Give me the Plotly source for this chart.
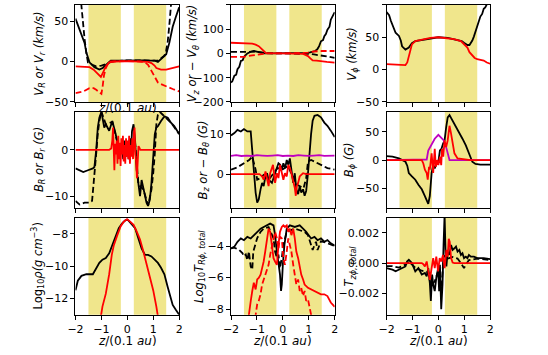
import plotly.graph_objects as go
from plotly.subplots import make_subplots

# ---------------- row 1 : velocities ----------------
vr_black_z = [-2.0, -1.9, -1.77, -1.65, -1.58, -1.46, -1.27, -1.08, -0.95, -0.83, -0.64, -0.33, 0.0, 0.3, 0.6, 0.9, 1.06, 1.18, 1.3, 1.4, 1.5, 1.62, 1.75, 1.87, 2.0]
vr_black = [53, 45, 35, 23, 11, -1, -7, -10, -8, -4, 1, 1, 1.5, 1.5, 1.5, 1, 1, -0.5, 3, 5, 9, 23, 43, 55, 67]
vr_black_dash_z = [-1.78, -1.72, -1.65, -1.58, -1.52, -1.35, -1.2, -1.0, -0.8, -0.6, -0.3, 0.0, 0.3, 0.6, 0.9, 1.18, 1.3, 1.43, 1.5, 1.56, 1.62, 1.69]
vr_black_dash = [72, 50, 28, 10, -1, -4, -6, -5, -3, 0, 1, 1.5, 1.5, 1.5, 1, 1, 4, 7, 14, 25, 45, 72]
vr_red_z = [-2.0, -1.8, -1.6, -1.46, -1.3, -1.15, -1.02, -0.93, -0.83, -0.7, -0.5, 0.0, 0.5, 0.8, 0.93, 1.05, 1.12, 1.3, 1.5, 1.75, 2.0]
vr_red = [-6, -6.5, -6.5, -7, -10, -15, -19, -13, -6, -1, 0, 0.5, 0, -0.5, -2, -5, -8, -10, -10, -8, -6]
vr_red_dash_z = [-2.0, -1.85, -1.7, -1.46, -1.3, -1.2, -1.1, -1.0, -0.95, -0.9, -0.83, -0.75, -0.7, -0.5, 0.0, 0.5, 0.68, 0.8, 0.9, 1.0, 1.1, 1.18, 1.3, 1.43, 1.6, 1.75, 2.0]
vr_red_dash = [-39, -38, -37, -33, -33, -35, -38, -40, -30, -17, -8, -2, 0, 0, 0.5, 0, -1, -4, -10, -16, -22, -26, -28, -30, -32, -34, -37]

vz_black_z = [-2.0, -1.95, -1.87, -1.8, -1.75, -1.68, -1.62, -1.55, -1.5, -1.43, -1.37, -1.24, -1.12, -0.93, -0.7, -0.4, 0.0, 0.4, 0.8, 0.97, 1.05, 1.15, 1.25, 1.34, 1.4, 1.47, 1.55, 1.6, 1.66, 1.72, 1.8, 1.85, 1.9, 1.97, 2.0]
vz_black = [-120, -115, -92, -88, -65, -55, -31, -28, -14, -8, 0, 7, 10, 5, 0, 0, 0, 0, 0, 2, 4, 7, 10, 19, 30, 50, 55, 71, 80, 98, 110, 139, 150, 169, 170]
vz_black_dash_z = [-2.0, -1.7, -1.5, -1.3, -1.1, -0.9, -0.6, 0.0, 0.6, 0.9, 1.0, 1.2, 1.4, 1.6, 1.8, 2.0]
vz_black_dash = [6, 5, 4, 6, 8, 5, 1, 0, 0, -1, -2, -4, -8, -11, -14, -18]
vz_red_z = [-2.0, -1.7, -1.5, -1.3, -1.18, -1.05, -0.93, -0.83, -0.74, -0.65, 0.0, 0.7, 0.78, 0.87, 0.97, 1.06, 1.15, 1.3, 1.47, 1.7, 2.0]
vz_red = [44, 42, 40, 41, 40, 36, 30, 20, 10, 1, 0, 0, -2, -6, -11, -20, -29, -30, -31, -35, -38]
vz_red_dash_z = [-2.0, -1.5, -1.18, -0.8, -0.6, 0.0, 0.7, 0.97, 1.2, 1.5, 2.0]
vz_red_dash = [-14, -14, -8, -1, 0, 0, 1, 3, 8, 10, 10]

vp_black_z = [-2.0, -1.9, -1.83, -1.77, -1.7, -1.65, -1.52, -1.45, -1.4, -1.27, -1.14, -1.02, -0.89, -0.64, -0.26, 0.0, 0.36, 0.74, 0.9, 1.0, 1.12, 1.2, 1.25, 1.31, 1.37, 1.43, 1.5, 1.56, 1.62, 1.69, 1.75, 1.81, 1.87]
vp_black = [89, 84, 75, 69, 62, 57, 52, 45, 36, 31, 34, 41, 44, 46, 49, 50, 49, 46, 44, 41, 38, 38, 41, 45, 51, 58, 67, 72, 82, 86, 94, 96, 101]
vp_red_z = [-2.0, -1.6, -1.3, -1.27, -1.2, -1.14, -1.08, -1.02, -0.89, -0.6, -0.3, 0.0, 0.3, 0.6, 0.87, 1.0, 1.12, 1.2, 1.31, 1.4, 1.5, 1.62, 1.75, 1.87, 2.0]
vp_red = [8.5, 8, 7, 7, 11, 19, 30, 39, 44, 47, 49, 50, 49, 47, 44, 39, 34, 27, 21, 18, 16, 15, 14, 11, 9]

# ---------------- row 2 : magnetic field ----------------
br_black_z = [-2.0, -1.84, -1.7, -1.52, -1.33, -1.27, -1.2, -1.14, -1.08, -1.0, -0.95, -0.89, -0.83, -0.7, -0.58, -0.5, -0.45, -0.38, -0.33, -0.28, -0.22, -0.16, -0.1, -0.05, 0.0, 0.05, 0.1, 0.14, 0.18, 0.24, 0.3, 0.36, 0.43, 0.49, 0.55, 0.62, 0.68, 0.74, 0.8, 0.87, 0.93, 1.0, 1.06, 1.12, 1.18, 1.3, 1.43, 1.56, 1.69, 1.81, 2.0]
br_black = [-4, -4.5, -4.8, -4.4, -4, -3.7, 0, 4.8, 6.9, 8.2, 6.2, 4.8, 5.5, 4.1, 6.2, 4.8, 3.4, 1.3, 0.5, -1, 1.5, -2, 2, -1.5, 1, -2, 2.5, -1, 4, 5.5, 2, -4.4, -7.9, -10, -6.5, -8.6, -10, -11.4, -12.1, -10.7, -7.2, -1.5, 3.4, 4.8, 5.1, 6.2, 7.2, 6.9, 5.8, 5.1, 3.4]
br_black_dash_z = [-2.0, -1.84, -1.65, -1.46, -1.36, -1.31, -1.26, -1.2, -1.14, -1.08, -1.0, -0.83, -0.58, -0.33, 0.0, 0.3, 0.43, 0.62, 0.8, 0.93, 1.0, 1.06, 1.12, 1.18, 1.25, 1.43, 1.69, 2.0]
br_black_dash = [-11, -11.8, -11.4, -11.4, -11, -7.2, -3.7, -0.8, 3.4, 6.2, 8.2, 5.5, 6, 0.5, 0.5, 1.5, -7.5, -8.5, -12, -8.6, -5, -0.8, 5.5, 7.6, 8.2, 7.2, 5.8, 3.4]
br_red_z = [-2.0, -0.7, -0.62, -0.58, -0.55, -0.52, -0.5, -0.47, -0.44, -0.41, -0.38, -0.35, -0.32, -0.29, -0.26, -0.23, -0.2, -0.17, -0.14, -0.11, -0.08, -0.05, -0.02, 0.01, 0.04, 0.07, 0.1, 0.13, 0.16, 0.19, 0.22, 0.25, 0.28, 0.31, 0.34, 0.37, 0.4, 0.43, 0.46, 0.5, 0.55, 0.6, 2.0]
br_red = [0, 0, 0.3, 2, 4.8, -1.5, -4.4, 1.3, -1, 2, -3, 3, -2, 1.5, -3.5, 2.5, -1, 3, -2.5, 1, -3, 2.5, -1.5, 2, -2, 3, -3, 1, -1.5, 2.5, -2, 3.5, 4.8, -1, -2.5, -6.1, -1, 0.8, 0.5, 0, 0, 0, 0]

bz_black_z = [-2.0, -1.87, -1.75, -1.62, -1.5, -1.37, -1.24, -1.18, -1.12, -1.05, -0.99, -0.93, -0.86, -0.8, -0.74, -0.67, -0.61, -0.55, -0.48, -0.42, -0.3, -0.23, -0.17, -0.1, -0.04, 0.02, 0.09, 0.15, 0.21, 0.27, 0.34, 0.4, 0.46, 0.52, 0.59, 0.65, 0.71, 0.78, 0.84, 0.9, 0.97, 1.03, 1.09, 1.15, 1.22, 1.34, 1.47, 1.6, 1.72, 1.85, 2.0]
bz_black = [9.6, 10.2, 11, 10.6, 11.2, 10.6, 10.6, 5.9, 0.2, -4.6, -7.1, -6.3, -3.8, -2.2, -3, -0.5, 0.2, -1.4, -1.8, -2.2, 0.2, 1.9, 2.7, 2.3, 1, 2.7, 1.5, 3.5, 2.3, 3.9, 0.2, -2.2, 0.2, -3.8, -5, -3, -4.6, -3.8, -5.4, -4.2, 0.2, 5.9, 10, 13.3, 14.5, 14.7, 14.1, 12.8, 12, 10.8, 9.2]
bz_black_dash_z = [-2.0, -1.75, -1.5, -1.3, -1.18, -1.05, -0.99, -0.86, -0.74, -0.5, -0.2, 0.0, 0.2, 0.5, 0.8, 0.9, 0.97, 1.09, 1.22, 1.47, 1.72, 2.0]
bz_black_dash = [1.1, 1.7, 2.7, 3.5, 4.3, 1.1, -1.4, -1, -0.2, -1, 1.5, 1.2, 2, -2.5, -3.5, -1, 3.1, 3.5, 3.1, 2.3, 1.5, 1.1]
bz_mag_z = [-2.0, -1.8, -1.6, -1.4, -1.2, -1.0, -0.8, -0.6, -0.4, -0.2, 0.0, 0.2, 0.4, 0.6, 0.8, 1.0, 1.2, 1.4, 1.6, 1.8, 2.0]
bz_mag = [4.5, 4.7, 4.5, 4.6, 4.5, 4.7, 4.6, 4.5, 4.6, 4.7, 4.5, 4.6, 4.5, 4.7, 4.6, 4.5, 4.6, 4.7, 4.5, 4.6, 4.6]
bz_red_z = [-2.0, -0.9, -0.8, -0.74, -0.67, -0.61, -0.55, -0.49, -0.42, -0.38, -0.35, -0.3, -0.23, -0.17, -0.11, -0.04, 0.02, 0.08, 0.15, 0.21, 0.27, 0.33, 0.4, 0.46, 0.5, 0.54, 0.59, 0.65, 0.71, 0.78, 0.9, 2.0]
bz_red = [0, 0, -0.6, -1.4, 0.65, -1, -3, 0.2, 1.9, 2.3, 0.65, -2.2, 0.2, -1, 2.3, -0.2, -1.4, 0.2, -0.6, 2.3, 1.5, 0.2, -1.4, -3.4, -5.4, -3, -2.2, -0.6, -0.2, 0.2, 0, 0]

bp_black_z = [-2.0, -1.77, -1.52, -1.27, -1.2, -1.14, -1.02, -0.89, -0.77, -0.64, -0.52, -0.39, -0.33, -0.26, -0.2, -0.14, -0.07, 0.0, 0.06, 0.12, 0.18, 0.24, 0.3, 0.36, 0.43, 0.55, 0.68, 0.8, 0.93, 1.06, 1.18, 1.31, 1.43, 1.62, 2.0]
bp_black = [7, 6, 3, -3, -10, -23, -29, -35, -44, -52, -64, -78, -64, -23, -9, -15, -6, -3, 17, 20, 29, 35, 58, 76, 80, 70, 61, 49, 38, 26, 12, -3, -7, -8, -8]
bp_mag_z = [-2.0, -0.52, -0.45, -0.39, -0.26, -0.14, 0.0, 0.12, 0.21, 0.3, 0.39, 0.43, 2.0]
bp_mag = [0, 0, 1, 17, 29, 38, 45, 40, 35, 23, 9, 0, 0]
bp_red_z = [-2.0, -0.64, -0.58, -0.52, -0.45, -0.41, -0.36, -0.33, -0.26, -0.2, -0.14, -0.1, -0.05, 0.0, 0.06, 0.11, 0.14, 0.19, 0.24, 0.3, 0.36, 0.43, 0.49, 0.55, 0.62, 0.74, 0.99, 1.24, 2.0]
bp_red = [0, 0, -6, -17, -23, -35, -12, -17, 12, -23, 20, -12, 0, -9, 6, -9, 20, 6, 35, 23, 35, 61, 47, 29, 12, 3, 1, 0, 0]

# ---------------- row 3 : density and stresses ----------------
rho_black_z = [-2.0, -1.91, -1.77, -1.58, -1.33, -1.2, -1.08, -0.96, -0.83, -0.7, -0.58, -0.45, -0.33, -0.2, -0.07, 0.03, 0.18, 0.3, 0.43, 0.55, 0.68, 0.8, 0.93, 1.06, 1.18, 1.3, 1.43, 1.56, 1.69, 1.75, 1.87, 2.0]
rho_black = [-11.5, -10.9, -10.6, -10.5, -10.5, -10.1, -9.8, -9.6, -9.5, -9.2, -8.7, -8.1, -7.65, -7.35, -7.15, -7.15, -7.45, -7.65, -8.3, -8.9, -9.3, -9.3, -9.4, -9.6, -9.8, -10.1, -10.5, -11.3, -12.1, -12.4, -12.7, -13.0]
rho_red_z = [-1.02, -0.96, -0.83, -0.7, -0.6, -0.52, -0.39, -0.26, -0.14, -0.01, 0.11, 0.24, 0.36, 0.49, 0.62, 0.74, 0.87, 1.0, 1.12, 1.18]
rho_red = [-13.1, -12.5, -11.7, -10.5, -9.3, -8.7, -8.1, -7.55, -7.25, -7.1, -7.25, -7.45, -7.85, -8.35, -9.1, -9.9, -10.7, -11.5, -12.5, -13.1]

tr_black_z = [-2.0, -1.87, -1.75, -1.62, -1.5, -1.37, -1.24, -1.12, -0.99, -0.86, -0.74, -0.61, -0.49, -0.36, -0.3, -0.23, -0.17, -0.11, -0.07, -0.04, 0.0, 0.06, 0.15, 0.27, 0.46, 0.65, 0.78, 0.9, 1.09, 1.22, 1.34, 1.47, 1.6, 1.72, 1.85, 2.0]
tr_black = [-4.15, -4.04, -3.73, -3.52, -3.63, -3.42, -3.52, -3.31, -3.1, -2.9, -2.79, -2.69, -2.58, -2.69, -3.31, -4.35, -5.19, -5.81, -6.85, -6.44, -5.19, -3.94, -2.9, -2.69, -2.79, -2.69, -2.9, -3.1, -3.52, -3.42, -3.63, -3.52, -3.73, -3.63, -3.83, -3.98]
tr_black_dash_z = [-2.0, -1.87, -1.68, -1.56, -1.5, -1.43, -1.37, -1.31, -1.24, -1.18, -1.14, -1.08, -0.99, -0.86, -0.74, -0.55, -0.36, -0.3, -0.23, -0.17, -0.11, -0.04, 0.02, 0.15, 0.46, 0.84, 0.97, 1.09, 1.15, 1.22, 1.28, 1.34, 1.41, 1.47, 1.6, 1.8, 2.0]
tr_black_dash = [-4.15, -4.1, -4.25, -4.45, -4.65, -4.54, -4.9, -4.35, -5.3, -5.5, -4.35, -3.94, -3.5, -3.1, -2.9, -2.8, -3.52, -4.35, -4.75, -4.55, -5.4, -4.75, -3.94, -3.1, -2.9, -3.1, -3.31, -3.94, -4.25, -3.94, -3.73, -4.25, -3.94, -3.7, -3.75, -3.85, -4.0]
tr_red_z = [-1.33, -1.31, -1.24, -1.18, -1.12, -1.05, -0.99, -0.93, -0.86, -0.8, -0.74, -0.68, -0.61, -0.55, -0.49, -0.42, -0.36, -0.3, -0.23, -0.17, -0.11, -0.04, 0.02, 0.08, 0.15, 0.21, 0.27, 0.33, 0.4, 0.46, 0.52, 0.59, 0.65, 0.71, 0.78, 0.84, 0.97, 1.09, 1.22, 1.34, 1.47, 1.6, 1.72, 1.85, 2.0]
tr_red = [-8.6, -8.3, -7.5, -6.85, -6.33, -6.75, -6.12, -6.02, -5.81, -5.4, -4.98, -4.35, -3.52, -2.9, -3.1, -3.94, -4.77, -4.98, -5.19, -3.94, -3.1, -2.79, -2.69, -2.79, -2.69, -3.1, -2.9, -3.31, -2.9, -3.52, -4.35, -4.77, -5.4, -5.81, -6.12, -6.44, -6.65, -6.75, -6.85, -6.96, -7.06, -7.06, -7.17, -7.58, -7.85]
tr_red_dash_z = [-1.07, -1.05, -0.99, -0.93, -0.86, -0.8, -0.74, -0.68, -0.61, -0.55, -0.49, -0.42, -0.36, -0.3, -0.23, -0.17, -0.11, -0.04, 0.02, 0.08, 0.15, 0.21, 0.27, 0.33, 0.4, 0.46, 0.52, 0.59, 0.65, 0.71, 0.78, 0.84, 0.9, 0.97, 1.03, 1.09, 1.12]
tr_red_dash = [-8.6, -8.3, -7.69, -7.48, -7.06, -6.44, -6.12, -5.81, -5.4, -5.19, -4.56, -3.94, -3.52, -3.1, -3.5, -4.2, -3.4, -3.52, -4.77, -5.19, -4.35, -3.52, -3.94, -4.35, -5.19, -5.81, -6.44, -6.12, -6.85, -6.65, -7.17, -6.85, -7.48, -7.38, -7.79, -8.3, -8.6]

tz_black_z = [-2.0, -1.77, -1.65, -1.52, -1.4, -1.27, -1.21, -1.14, -1.02, -0.89, -0.77, -0.64, -0.52, -0.45, -0.39, -0.33, -0.29, -0.24, -0.2, -0.14, -0.08, -0.01, 0.03, 0.06, 0.11, 0.16, 0.2, 0.24, 0.28, 0.31, 0.36, 0.43, 0.49, 0.55, 0.62, 0.68, 0.74, 0.81, 0.87, 0.93, 0.99, 1.06, 1.12, 1.18, 1.25, 1.37, 1.5, 1.75, 2.0]
tz_black = [-0.00033, -0.00043, -0.00054, -0.00043, -0.00033, -0.00022, 0.00011, 0.00022, 0.0, -0.00054, -0.00033, -0.00076, -0.00065, -0.00087, -0.00033, -0.0013, -0.0025, -0.00076, -0.00141, -0.00185, -0.00098, -0.00033, -0.00185, -0.00011, -0.00304, -0.00141, 0.0012, 0.0032, 0.00054, -0.00022, 0.00076, 0.00054, 0.0012, 0.00087, 0.00098, 0.00109, 0.00076, 0.00087, 0.00054, 0.00065, 0.00033, 0.00043, 0.00033, 0.00054, 0.00043, 0.00043, 0.00033, 0.00033, 0.00026]
tz_black_dash_z = [-2.0, -1.77, -1.52, -1.27, -1.14, -0.89, -0.64, -0.39, -0.29, -0.14, 0.0, 0.11, 0.2, 0.36, 0.55, 0.74, 0.87, 0.99, 1.06, 1.18, 1.5, 2.0]
tz_black_dash = [-0.0002, -0.0002, -0.0003, -0.0001, 0.0001, -0.0003, -0.0005, -0.0006, -0.0015, -0.0012, -0.0005, -0.002, 0.0005, 0.0003, 0.0004, 0.0003, 0.0, -0.00033, -0.0001, 0.0002, 0.0003, 0.0002]
tz_red_z = [-2.0, -0.64, -0.58, -0.52, -0.45, -0.39, -0.33, -0.26, -0.2, -0.14, -0.08, -0.01, 0.05, 0.11, 0.18, 0.24, 0.28, 0.31, 0.36, 0.4, 0.44, 0.49, 0.55, 0.62, 2.0]
tz_red = [0, 0, -0.00007, -0.00022, 0.00011, -0.00054, -0.0011, -0.00033, 0.00033, -0.00033, 0.00043, -0.00054, 0.00033, 0.00011, 0.00054, -0.00033, 0.00033, 0.00087, 0.00043, 0.0016, 0.0014, 0.00033, 0.00004, 0.0, 0.0]

# shaded z intervals
bands = [(-1.5, -0.25), (0.25, 1.5)]
x_ticks = [-2, -1, 0, 1, 2]

BLACK = "black"
RED = "#ff0000"
MAG = "#bf00bf"
FONT = "DejaVu Sans"

fig = make_subplots(rows=3, cols=3)


def add(row, col, z, v, color, dash="solid"):
    fig.add_trace(go.Scatter(x=z, y=v, mode="lines", showlegend=False, hoverinfo="skip",
                             line=dict(color=color, width=1.8, dash=dash)), row=row, col=col)


DASH = "6px,3px"
add(1, 1, vr_black_z, vr_black, BLACK)
add(1, 1, vr_black_dash_z, vr_black_dash, BLACK, DASH)
add(1, 1, vr_red_z, vr_red, RED)
add(1, 1, vr_red_dash_z, vr_red_dash, RED, DASH)

add(1, 2, vz_black_z, vz_black, BLACK)
add(1, 2, vz_black_dash_z, vz_black_dash, BLACK, DASH)
add(1, 2, vz_red_z, vz_red, RED)
add(1, 2, vz_red_dash_z, vz_red_dash, RED, DASH)

add(1, 3, vp_black_z, vp_black, BLACK)
add(1, 3, vp_red_z, vp_red, RED)

add(2, 1, br_black_z, br_black, BLACK)
add(2, 1, br_black_dash_z, br_black_dash, BLACK, DASH)
add(2, 1, br_red_z, br_red, RED)

add(2, 2, bz_black_z, bz_black, BLACK)
add(2, 2, bz_black_dash_z, bz_black_dash, BLACK, DASH)
add(2, 2, bz_mag_z, bz_mag, MAG)
add(2, 2, bz_red_z, bz_red, RED)

add(2, 3, bp_black_z, bp_black, BLACK)
add(2, 3, bp_mag_z, bp_mag, MAG)
add(2, 3, bp_red_z, bp_red, RED)

add(3, 1, rho_black_z, rho_black, BLACK)
add(3, 1, rho_red_z, rho_red, RED)

add(3, 2, tr_black_z, tr_black, BLACK)
add(3, 2, tr_black_dash_z, tr_black_dash, BLACK, DASH)
add(3, 2, tr_red_z, tr_red, RED)
add(3, 2, tr_red_dash_z, tr_red_dash, RED, DASH)

add(3, 3, tz_black_z, tz_black, BLACK)
add(3, 3, tz_black_dash_z, tz_black_dash, BLACK, DASH)
add(3, 3, tz_red_z, tz_red, RED)

W, H = 548, 355


def px(x):
    return x / W


def py(y):
    return 1 - y / H


col_px = [(69, 175), (228, 334), (387, 493)]
row_px = [(5, 104), (114, 212), (222, 321)]

y_ranges = [[-50, 70], [-200, 200], [-50, 100],
            [-12.5, 8.2], [-8.4, 15.5], [-85, 86],
            [-13, -7], [-8.35, -2.2], [-0.0034, 0.0030]]
y_ticks = [[-50, 0, 50], [-200, -100, 0, 100, 200], [-50, 0, 50, 100],
           [-10, 0], [0, 10], [-50, 0, 50],
           [-12, -10, -8], [-8, -6, -4], [-0.002, 0, 0.002]]
y_titles = ["<i>V<sub>R</sub> or V<sub>r</sub> (km/s)</i>",
            "<i>V<sub>z</sub> or − V<sub>θ</sub> (km/s)</i>",
            "<i>V<sub>ϕ</sub> (km/s)</i>",
            "<i>B<sub>R</sub> or B<sub>r</sub> (G)</i>",
            "<i>B<sub>z</sub> or − B<sub>θ</sub> (G)</i>",
            "<i>B<sub>ϕ</sub> (G)</i>",
            "Log<sub>10</sub><i>ρ(g cm</i><sup>−3</sup>)",
            "<i>Log</i><sub>10</sub><i>T<sub>Rϕ, total</sub></i>",
            "<i>T<sub>zϕ, total</sub></i>"]
title_x = [32, 189, 352, 32, 200, 349, 31, 195, 349]

axis_style = dict(showline=True, linecolor="black", linewidth=1, mirror=True,
                  ticks="outside", ticklen=4, tickwidth=1, tickcolor="black",
                  showgrid=False, zeroline=False,
                  tickfont=dict(family=FONT, size=11, color="black"))

for i in range(9):
    r, c = i // 3, i % 3
    n = "" if i == 0 else str(i + 1)
    x0, x1 = col_px[c]
    y0, y1 = row_px[r]
    fig.layout["xaxis" + n].update(domain=[px(x0), px(x1)], range=[-2, 2], tickvals=x_ticks,
                                   showticklabels=(r == 2), **axis_style)
    yfmt = ".3f" if i == 8 else None
    fig.layout["yaxis" + n].update(domain=[py(y1), py(y0)], range=y_ranges[i],
                                   tickvals=y_ticks[i], tickformat=yfmt, **axis_style)
    for a, b in bands:
        fig.add_shape(type="rect", xref="x" + n, yref="y" + n + " domain", x0=a, x1=b, y0=0, y1=1,
                      fillcolor="#f0e68c", line_width=0, layer="below")
    fig.add_annotation(text=y_titles[i], xref="paper", yref="paper", x=px(title_x[i]),
                       y=py((y0 + y1) / 2), textangle=-90, showarrow=False,
                       xanchor="center", yanchor="middle",
                       font=dict(family=FONT, size=11.5, color="black"))

for c in range(3):
    x0, x1 = col_px[c]
    fig.add_annotation(text="<i>z</i>/(0.1 <i>au</i>)", xref="paper", yref="paper",
                       x=px((x0 + x1) / 2), y=py(348), showarrow=False,
                       xanchor="center", yanchor="middle",
                       font=dict(family=FONT, size=12, color="black"))

# top-left panel's own x label, partly hidden behind the panel below it
fig.add_annotation(text="<i>z</i>/(0.1 <i>au</i>)", xref="paper", yref="paper",
                   x=px(122), y=py(110), showarrow=False, xanchor="center", yanchor="middle",
                   font=dict(family=FONT, size=12, color="black"))

fig.update_layout(width=W, height=H, autosize=False, margin=dict(l=0, r=0, t=0, b=0),
                  paper_bgcolor="white", plot_bgcolor="white", showlegend=False,
                  hovermode=False, font=dict(family=FONT, color="black"))

# drop the browser's default 8px body margin so the figure fills the window exactly
fig.write_html("out.html", config={"displayModeBar": False},
               post_script="document.body.style.margin = '0';")
